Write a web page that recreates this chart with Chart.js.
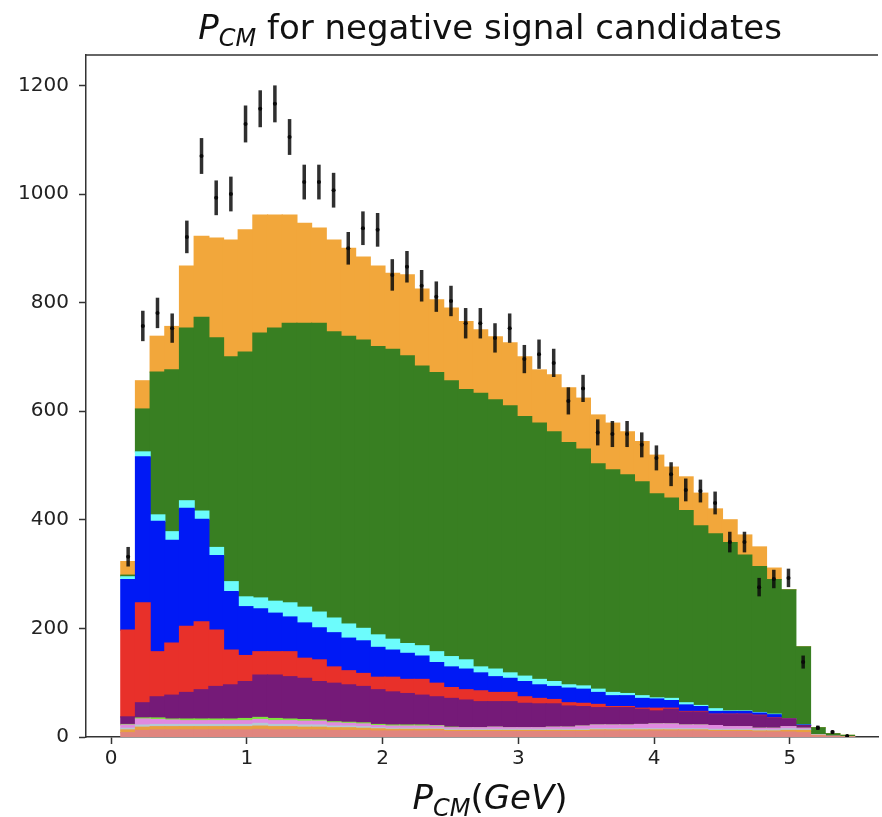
<!DOCTYPE html>
<html>
<head>
<meta charset="utf-8">
<script src="https://cdn.jsdelivr.net/npm/chart.js@4.4.1/dist/chart.umd.min.js"></script>
<style>
  html, body { margin: 0; padding: 0; background: #fff; overflow: hidden; }
  canvas { display: block; }
</style>
</head>
<body>
<canvas id="c" width="882" height="817"></canvas>
<script>
// histogram binning (50 bins)
const binLo = 0.071, binHi = 5.477, nBins = 50;

// stacked MC components, bottom -> top (counts per bin)
const salmon = [8,12,13,13,13,13,13,13,13,14, 13,13,13,13,12,12,12,11,11,11, 11,11,10,10,10,10,10,10,10,10, 10,10,11,11,11,11,11,11,11,11, 10,10,10,9,9,9,8,2,1,0];
const orangeLow = [5,6,6,6,6,6,6,6,6,6, 6,6,5,5,5,5,4,4,3,3, 3,3,2,2,2,2,2,2,2,2, 2,2,2,2,2,2,2,2,2,2, 2,2,2,2,2,3,4,1,0,0];
const greyBlue = [3,4,4,4,4,4,4,4,4,5, 4,4,4,4,3,3,3,2,2,2, 2,2,2,2,2,2,2,2,2,2, 2,2,2,2,2,2,2,2,2,2, 2,2,2,2,2,3,2,1,0,0];
const orchid = [6,11,9,8,7,7,7,7,7,7, 7,7,7,7,6,5,5,4,4,4, 4,4,3,3,3,4,3,3,3,4, 4,6,7,7,7,8,9,9,7,7, 7,5,5,3,3,4,2,0,0,0];
const lime = [1,2,3,2,3,3,3,3,4,4, 4,3,3,2,2,2,2,2,2,2, 2,1,1,0,0,0,0,0,0,0, 0,0,0,0,0,0,0,0,0,0, 0,0,0,0,0,0,0,0,0,0];
const purple = [14,28,39,44,49,54,60,63,68,78, 80,78,76,71,71,69,67,64,61,58, 55,53,53,51,48,47,48,45,44,43, 39,36,32,32,32,28,24,27,24,24, 20,22,22,23,18,14,5,0,0,0];
const red = [160,184,83,96,122,125,104,64,48,43, 43,46,37,40,30,26,24,23,27,26, 29,25,20,19,20,17,17,12,10,8, 6,6,6,2,2,2,5,2,1,1, 1,1,1,1,1,0,0,0,0,0];
const blue = [93,269,240,189,217,189,137,108,90,79, 71,64,65,59,63,60,60,55,50,48, 43,38,38,38,33,29,26,28,25,24, 27,26,22,20,20,18,17,14,12,9, 5,5,5,4,6,0,1,0,0,0];
const cyan = [5,9,12,16,14,15,15,18,18,20, 22,26,29,29,27,26,23,23,20,18, 19,20,19,17,11,14,10,10,10,9, 6,6,6,6,4,5,2,4,4,2, 5,1,1,1,1,0,0,0,0,0];
const green = [3,79,263,298,318,357,386,414,451,488, 503,515,523,532,527,530,531,531,534,530, 515,514,508,498,504,496,492,478,472,460, 446,436,415,410,403,394,376,369,354,331, 322,310,287,269,248,238,144,13,5,3];
const orange = [25,52,66,80,114,149,184,215,225,217, 208,199,184,175,169,162,153,148,140,149, 142,134,134,125,117,116,116,110,98,105, 101,94,90,86,79,74,71,57,62,60, 46,42,37,36,21,0,0,0,0,0];

// data points and their errors
const dataPts = [332,757,781,753,921,1070,993,1000,1129,1157, 1166,1105,1022,1022,1007,900,937,934,851,866, 831,811,803,762,762,735,753,696,705,689, 619,642,561,558,558,538,514,484,455,453, 431,359,359,276,291,293,138,17,9,2];
const dataErr = [18,28,28,27,30,33,32,32,34,34, 34,33,32,32,32,30,31,31,29,29, 29,28,28,28,28,27,27,26,27,26, 25,25,24,24,24,23,23,22,21,21, 21,19,19,17,17,17,12,4,3,1];

const xTicks = [0, 1, 2, 3, 4, 5];
const yTicks = [0, 200, 400, 600, 800, 1000, 1200];

const binW = (binHi - binLo) / nBins;
const centers = Array.from({ length: nBins }, (_, i) => binLo + binW * (i + 0.5));

const layers = [
  [salmon, "#e0857e"],
  [orangeLow, "#e8a040"],
  [greyBlue, "#b4c8d4"],
  [orchid, "#e08ae0"],
  [lime, "#80e040"],
  [purple, "#751a78"],
  [red, "#e8302a"],
  [blue, "#0019f5"],
  [cyan, "#6cfcfc"],
  [green, "#387f22"],
  [orange, "#f2a73b"]
];

const barSets = layers.map(([vals, col]) => ({
  data: centers.map((x, i) => ({ x: x, y: vals[i] })),
  backgroundColor: col,
  borderWidth: 0,
  inflateAmount: 0.6,
  barPercentage: 1,
  categoryPercentage: 1,
  order: 2
}));

const pointSet = {
  type: "scatter",
  data: centers.map((x, i) => ({ x: x, y: dataPts[i] })),
  pointRadius: 2,
  backgroundColor: "#000",
  borderWidth: 0,
  order: 0
};

const axisCol = "#333";
const tickFont = { family: "DejaVu Sans", size: 20 };

// error bars on the data points
const errBars = {
  id: "errBars",
  afterDatasetsDraw(chart) {
    const { ctx, scales } = chart;
    ctx.save();
    ctx.strokeStyle = "rgba(10,10,10,0.85)";
    ctx.lineWidth = 3.5;
    centers.forEach((c, i) => {
      const px = scales.x.getPixelForValue(c);
      ctx.beginPath();
      ctx.moveTo(px, scales.y.getPixelForValue(dataPts[i] - dataErr[i]));
      ctx.lineTo(px, scales.y.getPixelForValue(dataPts[i] + dataErr[i]));
      ctx.stroke();
    });
    ctx.restore();
  }
};

// top spine, title and x label (mathtext style)
function mathText(ctx, parts, cx, base) {
  let total = 0;
  parts.forEach(p => { ctx.font = p.font; p.w = ctx.measureText(p.t).width; total += p.w; });
  let x = cx - total / 2;
  parts.forEach(p => {
    ctx.font = p.font;
    ctx.fillText(p.t, x, base + (p.dy || 0));
    x += p.w;
  });
}

const decor = {
  id: "decor",
  afterDraw(chart) {
    const { ctx, chartArea } = chart;
    ctx.save();
    ctx.strokeStyle = axisCol;
    ctx.lineWidth = 1.5;
    ctx.beginPath();
    ctx.moveTo(chartArea.left, chartArea.top);
    ctx.lineTo(chartArea.right, chartArea.top);
    ctx.stroke();

    ctx.fillStyle = "#111";
    ctx.textBaseline = "alphabetic";
    const cx = 490;
    mathText(ctx, [
      { t: "P", font: 'italic 34px "DejaVu Sans"' },
      { t: "CM", font: 'italic 24px "DejaVu Sans"', dy: 7 },
      { t: " for negative signal candidates", font: '34px "DejaVu Sans"' }
    ], cx, 39);
    mathText(ctx, [
      { t: "P", font: 'italic 34px "DejaVu Sans"' },
      { t: "CM", font: 'italic 24px "DejaVu Sans"', dy: 7 },
      { t: "(", font: '34px "DejaVu Sans"' },
      { t: "GeV", font: 'italic 34px "DejaVu Sans"' },
      { t: ")", font: '34px "DejaVu Sans"' }
    ], cx, 809);
    ctx.restore();
  }
};

const plainLabel = v => String(v);

new Chart(document.getElementById("c"), {
  type: "bar",
  data: { datasets: barSets.concat([pointSet]) },
  options: {
    responsive: false,
    animation: false,
    layout: { padding: { top: 55, right: 0, left: 0, bottom: 0 } },
    plugins: {
      legend: { display: false },
      tooltip: { enabled: false },
      title: { display: false }
    },
    scales: {
      x: {
        type: "linear",
        min: -0.1855,
        max: 5.65,
        stacked: true,
        offset: false,
        afterBuildTicks: s => { s.ticks = xTicks.map(v => ({ value: v })); },
        afterFit: s => { s.height = 80; },
        ticks: { font: tickFont, color: "#222", padding: 3, maxRotation: 0, autoSkip: false, callback: plainLabel },
        grid: { offset: false, drawOnChartArea: false, drawTicks: true, tickLength: 7, tickWidth: 1.5, tickColor: axisCol },
        border: { display: true, color: axisCol, width: 1.5 }
      },
      y: {
        min: 0,
        max: 1256,
        stacked: true,
        afterBuildTicks: s => { s.ticks = yTicks.map(v => ({ value: v })); },
        afterFit: s => { s.width = 86; },
        ticks: { font: tickFont, color: "#222", padding: 10, callback: plainLabel },
        grid: { offset: false, drawOnChartArea: false, drawTicks: true, tickLength: 7, tickWidth: 1.5, tickColor: axisCol },
        border: { display: true, color: axisCol, width: 1.5 }
      }
    }
  },
  plugins: [errBars, decor]
});
</script>
</body>
</html>
